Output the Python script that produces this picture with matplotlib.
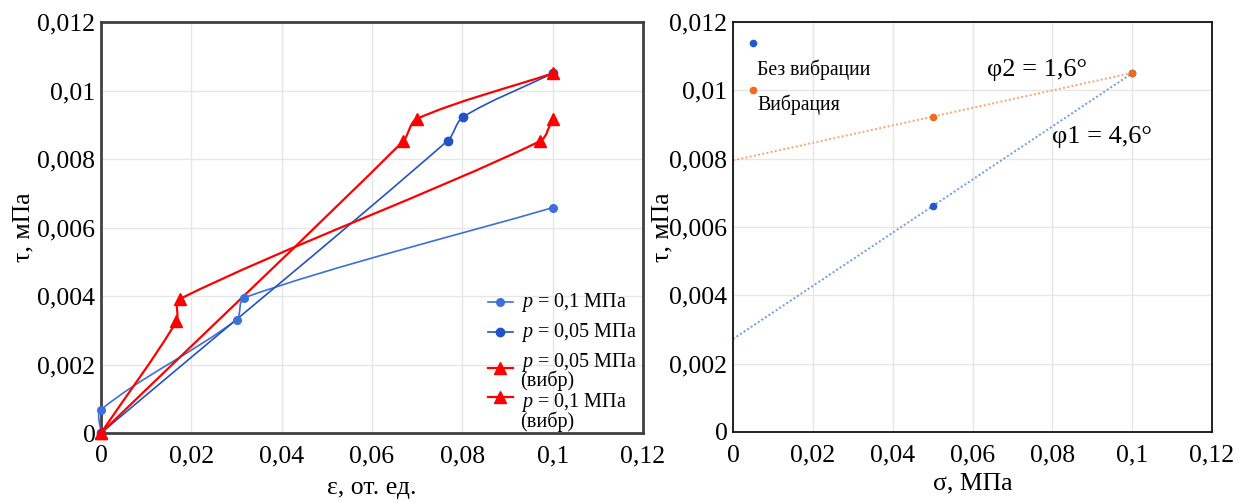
import numpy as np
import matplotlib
matplotlib.use("Agg")
import matplotlib.pyplot as plt
from matplotlib.path import Path
from matplotlib.patches import PathPatch

plt.rcParams['font.family'] = ['Liberation Serif', 'DejaVu Serif']
plt.rcParams['mathtext.fontset'] = 'custom'
plt.rcParams['mathtext.it'] = 'Liberation Serif:italic'
plt.rcParams['mathtext.rm'] = 'Liberation Serif'

# ---------------- data: left chart (tau vs strain) ----------------
eps_p01 = [0.0, 0.0, 0.030, 0.0317, 0.100]
tau_p01 = [0.0, 0.00068, 0.00331, 0.00395, 0.00658]
eps_p005 = [0.0, 0.0768, 0.0801, 0.100]
tau_p005 = [0.0, 0.00854, 0.00922, 0.01050]
eps_p005v = [0.0, 0.0167, 0.0174, 0.0972, 0.100]
tau_p005v = [0.0, 0.00326, 0.00391, 0.00852, 0.00917]
eps_p01v = [0.0, 0.0669, 0.0699, 0.100]
tau_p01v = [0.0, 0.00852, 0.00917, 0.01050]

left_labels = ["$p$ = 0,1 МПа", "$p$ = 0,05 МПа", "$p$ = 0,05 МПа\n(вибр)", "$p$ = 0,1 МПа\n(вибр)"]

# ---------------- data: right chart (tau vs sigma) ----------------
sigma = [0.05, 0.10]
tau_novib = [0.00661, 0.01050]
tau_vib = [0.00923, 0.01051]
right_labels = ["Без вибрации", "Вибрация"]
angle_labels = ["φ1 = 4,6°", "φ2 = 1,6°"]

x_ticks = [0, 0.02, 0.04, 0.06, 0.08, 0.10, 0.12]
x_ticklabels = ["0", "0,02", "0,04", "0,06", "0,08", "0,1", "0,12"]
y_ticks = [0, 0.002, 0.004, 0.006, 0.008, 0.010, 0.012]
y_ticklabels = ["0", "0,002", "0,004", "0,006", "0,008", "0,01", "0,012"]

BLUE1 = '#3b70d8'
BLUE2 = '#2352c6'
RED = '#ff0000'
DOT_BLUE = '#2458cc'
ORANGE = '#f26b1d'

fig = plt.figure(figsize=(12.39, 5.04), dpi=100)
axL = fig.add_axes([101/1239, 1-433/504, (643-101)/1239, (433-22)/504])
axR = fig.add_axes([733/1239, 1-432/504, (1212-733)/1239, (432-22)/504])

TICK_FS = 18.5
LAB_FS = 18.5

for ax in (axL, axR):
    ax.set_xlim(0, 0.12)
    ax.set_ylim(0, 0.012)
    ax.set_xticks(x_ticks)
    ax.set_xticklabels(x_ticklabels)
    ax.set_yticks(y_ticks)
    ax.set_yticklabels(y_ticklabels)
    ax.tick_params(length=0, labelsize=TICK_FS)
    ax.tick_params(axis='x', pad=9)
    ax.tick_params(axis='y', pad=4)
    ax.grid(True, color='#e6e6e6', lw=1.0)
    ax.set_axisbelow(True)

for s in axL.spines.values():
    s.set_color('#404040')
    s.set_linewidth(2.0)
for s in axR.spines.values():
    s.set_color('#111111')
    s.set_linewidth(1.3)


def smooth_path(ax, xs, ys, k=0.3):
    pts = ax.transData.transform(np.column_stack([xs, ys]))
    n = len(pts)
    verts = [pts[0]]
    codes = [Path.MOVETO]
    dirs = []
    for i in range(n):
        if i == 0 or i == n - 1:
            dirs.append(None)
        else:
            d = pts[i + 1] - pts[i - 1]
            nd = np.linalg.norm(d)
            dirs.append(d / nd if nd > 0 else np.zeros(2))
    for i in range(n - 1):
        p0, p1 = pts[i], pts[i + 1]
        L = np.linalg.norm(p1 - p0)
        c1 = p0 + (dirs[i] * k * L if dirs[i] is not None else (p1 - p0) * k)
        c2 = p1 - (dirs[i + 1] * k * L if dirs[i + 1] is not None else (p1 - p0) * k)
        verts += [c1, c2, p1]
        codes += [Path.CURVE4] * 3
    verts = ax.transData.inverted().transform(np.array(verts))
    return Path(verts, codes)


series = [
    (eps_p01, tau_p01, BLUE1, 'o', 5.5, 1.2),
    (eps_p005, tau_p005, BLUE2, 'o', 6.0, 1.2),
    (eps_p005v, tau_p005v, RED, '^', 9.0, 1.6),
    (eps_p01v, tau_p01v, RED, '^', 9.0, 1.6),
]
for xs, ys, c, m, ms, lw in series:
    p = smooth_path(axL, xs, ys)
    axL.add_patch(PathPatch(p, fill=False, edgecolor=c, lw=lw, zorder=3, clip_on=False))
    axL.plot(xs, ys, ls='none', marker=m, ms=ms, color=c, zorder=4, clip_on=False)

# manual legend (left)
leg_y_handle = [0.319, 0.246, 0.158, 0.0876]
leg_y_text = [0.318, 0.245, 0.151, 0.053]
for (xs, ys, c, m, ms, lw), yh, yt, lab in zip(series, leg_y_handle, leg_y_text, left_labels):
    axL.plot([0.714, 0.760], [yh, yh], color=c, lw=lw, transform=axL.transAxes, zorder=5)
    axL.plot([0.737], [yh], marker=m, ms=ms, color=c, transform=axL.transAxes, zorder=5, ls='none')
    axL.text(0.774, yt, lab, transform=axL.transAxes, fontsize=14.5, va='center', ha='left',
             linespacing=0.82, zorder=6)

axL.set_xlabel("ε, от. ед.", fontsize=LAB_FS, labelpad=7)
axL.set_ylabel("τ, мПа", fontsize=LAB_FS, labelpad=2)

# ---------------- right chart ----------------
def trend(xv, yv):
    a, b = np.polyfit(xv, yv, 1)
    xx = np.array([0.0, max(xv)])
    return xx, a * xx + b

tx, ty = trend(sigma, tau_novib)
axR.plot(tx, ty, ls=(0, (1, 1.2)), color='#6f9be6', lw=1.4, zorder=2)
tx, ty = trend(sigma, tau_vib)
axR.plot(tx, ty, ls=(0, (1, 1.2)), color='#f7a66c', lw=1.4, zorder=2)
axR.plot(sigma, tau_novib, ls='none', marker='o', ms=4.5, color=DOT_BLUE, zorder=3)
axR.plot(sigma, tau_vib, ls='none', marker='o', ms=4.5, color=ORANGE, zorder=4)

# legend (right)
axR.plot([0.005], [0.01139], ls='none', marker='o', ms=4.5, color=DOT_BLUE)
axR.plot([0.005], [0.01001], ls='none', marker='o', ms=4.5, color=ORANGE)
axR.text(0.006, 0.01060, right_labels[0], fontsize=14.2, va='center', ha='left')
axR.text(0.006, 0.00957, right_labels[1], fontsize=14.2, va='center', ha='left')

axR.text(0.0924, 0.00863, angle_labels[0], fontsize=19, ha='center', va='center')
axR.text(0.0762, 0.01060, angle_labels[1], fontsize=19, ha='center', va='center')

axR.set_xlabel("σ, МПа", fontsize=LAB_FS, labelpad=4)
axR.set_ylabel("τ, мПа", fontsize=LAB_FS, labelpad=-3)

fig.savefig("out.png", dpi=100)
